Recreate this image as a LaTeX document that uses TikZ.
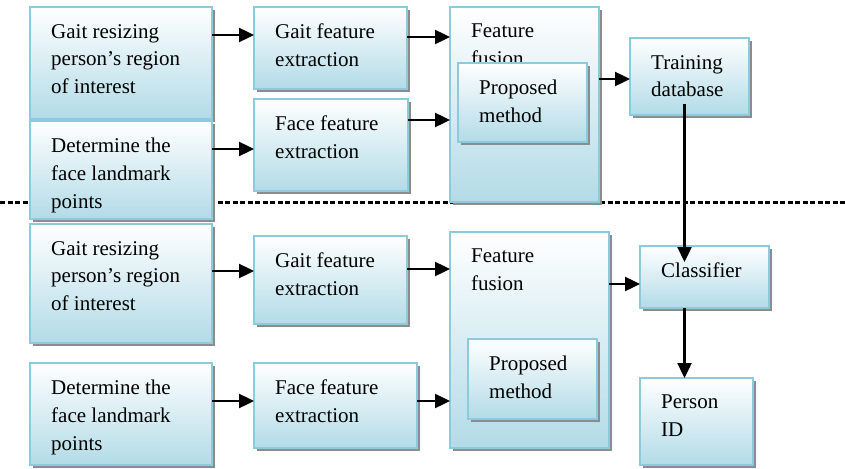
\documentclass[tikz,border=0pt]{standalone}
\usepackage{fontspec}
\setmainfont{Liberation Serif}
\usetikzlibrary{calc}
\usetikzlibrary{shadows}
\usetikzlibrary{arrows.meta}

\definecolor{boxline}{RGB}{140,203,220}
\definecolor{boxfill}{RGB}{178,219,231}

\tikzset{
  box/.style={draw=boxline, line width=2.8pt, top color=white, bottom color=boxfill,
    anchor=north west, inner sep=0pt, outer sep=0pt,
    drop shadow={shadow xshift=3pt, shadow yshift=-3pt, opacity=1, fill=black!45}},
  txt/.style={anchor=north west, inner sep=0pt, align=left,
    font=\fontsize{21}{27.7}\selectfont},
  arr/.style={line width=2.4pt, -{Triangle[length=15pt,width=14pt]}}
}

\begin{document}
\begin{tikzpicture}[x=1pt,y=-1pt]
		\useasboundingbox (0,0) rectangle (845,468);

		% Define the separator between training and testing
		\coordinate (sepL) at (0,202);
		\coordinate (sepR) at (845,202);
		\draw[line width=3pt, dash pattern=on 5pt off 2.5pt] (sepL) -- (sepR);

		% Draw the boxes and their texts
		\foreach \nm/\px/\py/\w/\h/\txt in {
			gaitA/30/7/182/112/{Gait resizing\\person’s region\\of interest},
			faceA/30/121/182/98/{Determine the\\face landmark\\points},
			gfeatA/254/7/153/82/{Gait feature\\extraction},
			ffeatA/254/99/154/92/{Face feature\\extraction},
			fusA/450/7/149/195/{Feature\\fusion},
			propA/458/63/129/79/{Proposed\\method},
			train/630/38/119/77/{Training\\database},
			gaitB/30/224/182/119/{Gait resizing\\person’s region\\of interest},
			faceB/30/363/182/102/{Determine the\\face landmark\\points},
			gfeatB/254/236/153/88/{Gait feature\\extraction},
			ffeatB/254/363/163/85/{Face feature\\extraction},
			fusB/450/232/159/216/{Feature\\fusion},
			propB/468/339/129/80/{Proposed\\method},
			classif/640/246/129/62/{Classifier},
			person/640/378/113/87/{Person\\ID}}
		{
			\node[box, minimum width=\w, minimum height=\h] (\nm) at (\px,\py) {};
			\node[txt] (\nm-t) at ($(\nm.north west)+(21,17)$) {\txt};
		}

		% Draw the arrows
		\foreach \a/\b/\d in {gaitA/gfeatA/28, faceA/ffeatA/28, gfeatA/fusA/30,
			ffeatA/fusA/21, fusA/train/72, gaitB/gfeatB/47, faceB/ffeatB/38,
			gfeatB/fusB/33, ffeatB/fusB/38, fusB/classif/52}
		\draw[arr] ($(\a.north east)+(0,\d)$) coordinate (p) -- (p -| \b.west);

		\coordinate (q) at ($(train.south)+(-5,-11)$);
		\draw[arr] (q) -- ($(q |- classif.north)+(0,16)$);
		\draw[arr] (q |- classif.south) -- (q |- person.north);
\end{tikzpicture}
\end{document}
